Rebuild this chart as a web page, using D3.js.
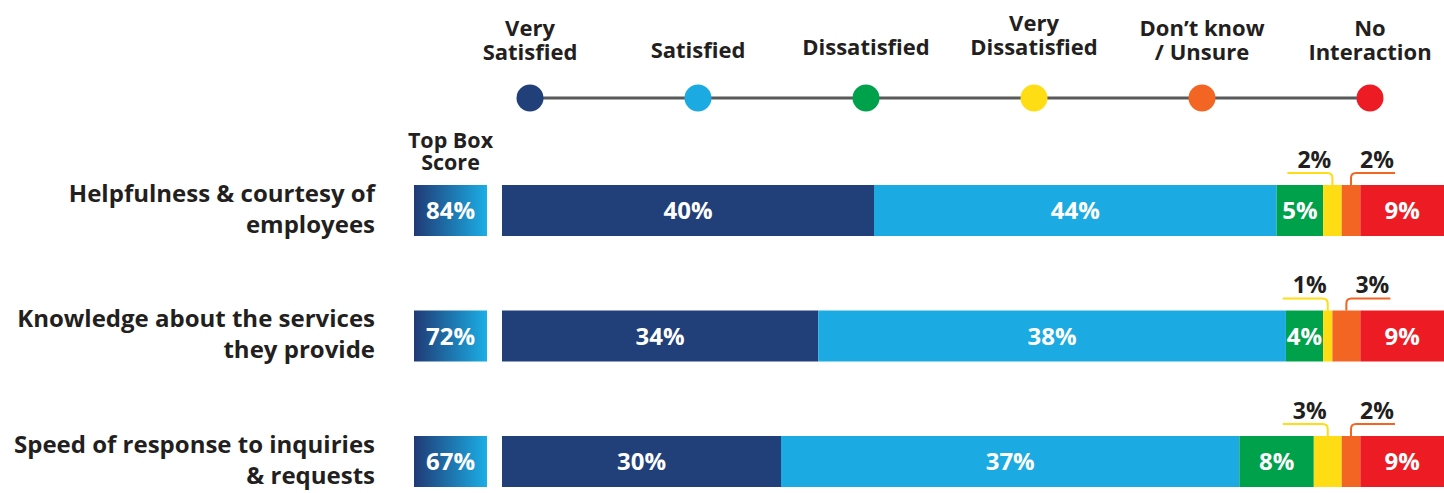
<!DOCTYPE html>
<html>
<head>
<meta charset="utf-8">
<script src="https://cdn.jsdelivr.net/npm/d3@7/dist/d3.min.js"></script>
<style>
  html, body { margin: 0; padding: 0; background: #fff; }
  svg { display: block; }
  text { font-family: "Open Sans", "Noto Sans", sans-serif; font-weight: 700; }
</style>
</head>
<body>
<svg id="chart" width="1444" height="493"></svg>
<script>
// ---- data ----
const categories = [
  ["Helpfulness & courtesy of", "employees"],
  ["Knowledge about the services", "they provide"],
  ["Speed of response to inquiries", "& requests"]
];
const topBox = [84, 72, 67];
const verySatisfied = [40, 34, 30];
const satisfied = [44, 38, 37];
const dissatisfied = [5, 4, 8];
const veryDissatisfied = [2, 1, 3];
const dontKnow = [2, 3, 2];
const noInteraction = [9, 9, 9];
const legendLabels = [
  ["Very", "Satisfied"],
  ["Satisfied"],
  ["Dissatisfied"],
  ["Very", "Dissatisfied"],
  ["Don\u2019t know", "/ Unsure"],
  ["No", "Interaction"]
];
const topBoxTitle = ["Top Box", "Score"];

// ---- styles ----
const colors = ["#213F79", "#1BABE2", "#00A14B", "#FFDD15", "#F26522", "#ED1C24"];
const textDark = "#231F20";

const svg = d3.select("#chart");
const W = 1444;

const x = d3.scaleLinear().domain([0, 100]).range([502, 1432]);
const barEnd = W;
const y = d3.scaleBand().domain(d3.range(categories.length)).range([185, 487]).paddingInner(0.5936).paddingOuter(0);
const bh = y.bandwidth();

// gradient for top box
const defs = svg.append("defs");
const grad = defs.append("linearGradient").attr("id", "tb").attr("x1", "0%").attr("x2", "100%");
grad.append("stop").attr("offset", "0%").attr("stop-color", "#203A75");
grad.append("stop").attr("offset", "100%").attr("stop-color", "#1BAEE5");

// ---- legend ----
const lx = d3.scalePoint().domain(d3.range(legendLabels.length)).range([530, 1370]);
const legendY = 98;
const lastBaseline = [60, 58, 55, 55, 60, 60];
svg.append("line")
  .attr("x1", lx(0)).attr("x2", lx(legendLabels.length - 1))
  .attr("y1", legendY).attr("y2", legendY)
  .attr("stroke", "#58595B").attr("stroke-width", 3);
const lg = svg.append("g").selectAll("g").data(legendLabels).join("g");
lg.append("circle")
  .attr("cx", (d, i) => lx(i)).attr("cy", legendY).attr("r", 13.5)
  .attr("fill", (d, i) => colors[i]);
lg.each(function (lines, i) {
  const g = d3.select(this);
  lines.forEach((t, j) => {
    g.append("text")
      .attr("x", lx(i))
      .attr("y", lastBaseline[i] - (lines.length - 1 - j) * 24)
      .attr("text-anchor", "middle")
      .attr("font-size", 22)
      .attr("fill", textDark)
      .text(t);
  });
});

// ---- top box title ----
topBoxTitle.forEach((t, j) => {
  svg.append("text")
    .attr("x", 450.5).attr("y", 148 + j * 22)
    .attr("text-anchor", "middle").attr("font-size", 21.5)
    .attr("fill", textDark).text(t);
});

// ---- rows ----
const rows = categories.map((c, i) => {
  const vals = [verySatisfied[i], satisfied[i], dissatisfied[i], veryDissatisfied[i], dontKnow[i], noInteraction[i]];
  const segs = [];
  const x0 = x(0);
  const vsEnd = x(vals[0]);
  segs.push({ k: 0, v: vals[0], x0: x0, x1: vsEnd });
  let cur = barEnd;
  const right = [];
  for (let k = 5; k >= 2; k--) {
    const w = x(vals[k]) - x(0);
    right.unshift({ k: k, v: vals[k], x0: cur - w, x1: cur });
    cur -= w;
  }
  segs.push({ k: 1, v: vals[1], x0: vsEnd, x1: cur });
  return { i, segs: segs.concat(right) };
});

const rowG = svg.append("g").selectAll("g").data(rows).join("g")
  .attr("transform", d => `translate(0,${y(d.i)})`);

// row labels
rowG.each(function (d) {
  const g = d3.select(this);
  categories[d.i].forEach((t, j) => {
    g.append("text")
      .attr("x", 375).attr("y", 17 + j * 31)
      .attr("text-anchor", "end").attr("font-size", 24)
      .attr("fill", textDark).text(t);
  });
});

// top box
rowG.append("rect")
  .attr("x", 414).attr("width", 73).attr("height", bh)
  .attr("fill", "url(#tb)");
rowG.append("text")
  .attr("x", 450.5).attr("y", bh / 2).attr("dy", "0.36em")
  .attr("text-anchor", "middle").attr("font-size", 24).attr("fill", "#fff")
  .text(d => topBox[d.i] + "%");

// segments
const seg = rowG.selectAll("g.seg").data(d => d.segs).join("g").attr("class", "seg");
seg.append("rect")
  .attr("x", s => s.x0).attr("width", s => s.x1 - s.x0).attr("height", bh)
  .attr("fill", s => colors[s.k]);
seg.filter(s => s.k === 0 || s.k === 1 || s.k === 2 || s.k === 5)
  .append("text")
  .attr("x", s => (s.x0 + s.x1) / 2).attr("y", bh / 2).attr("dy", "0.36em")
  .attr("text-anchor", "middle").attr("font-size", 24).attr("fill", "#fff")
  .text(s => s.v + "%");

// callouts for small segments
const ly = -12, r = 5;
seg.filter(s => s.k === 3).each(function (s) {
  const g = d3.select(this);
  const cx = (s.x0 + s.x1) / 2;
  g.append("path")
    .attr("d", `M${cx - 45},${ly} H${cx - r} Q${cx},${ly} ${cx},${ly + r} V0`)
    .attr("fill", "none").attr("stroke", colors[3]).attr("stroke-width", 2);
  g.append("text")
    .attr("x", cx - 18).attr("y", ly - 5)
    .attr("text-anchor", "middle").attr("font-size", 23).attr("fill", textDark)
    .text(s.v + "%");
});
seg.filter(s => s.k === 4).each(function (s) {
  const g = d3.select(this);
  const cx = (s.x0 + s.x1) / 2;
  g.append("path")
    .attr("d", `M${cx},0 V${ly + r} Q${cx},${ly} ${cx + r},${ly} H${cx + 44}`)
    .attr("fill", "none").attr("stroke", colors[4]).attr("stroke-width", 2);
  g.append("text")
    .attr("x", cx + 26).attr("y", ly - 5)
    .attr("text-anchor", "middle").attr("font-size", 23).attr("fill", textDark)
    .text(s.v + "%");
});
</script>
</body>
</html>
